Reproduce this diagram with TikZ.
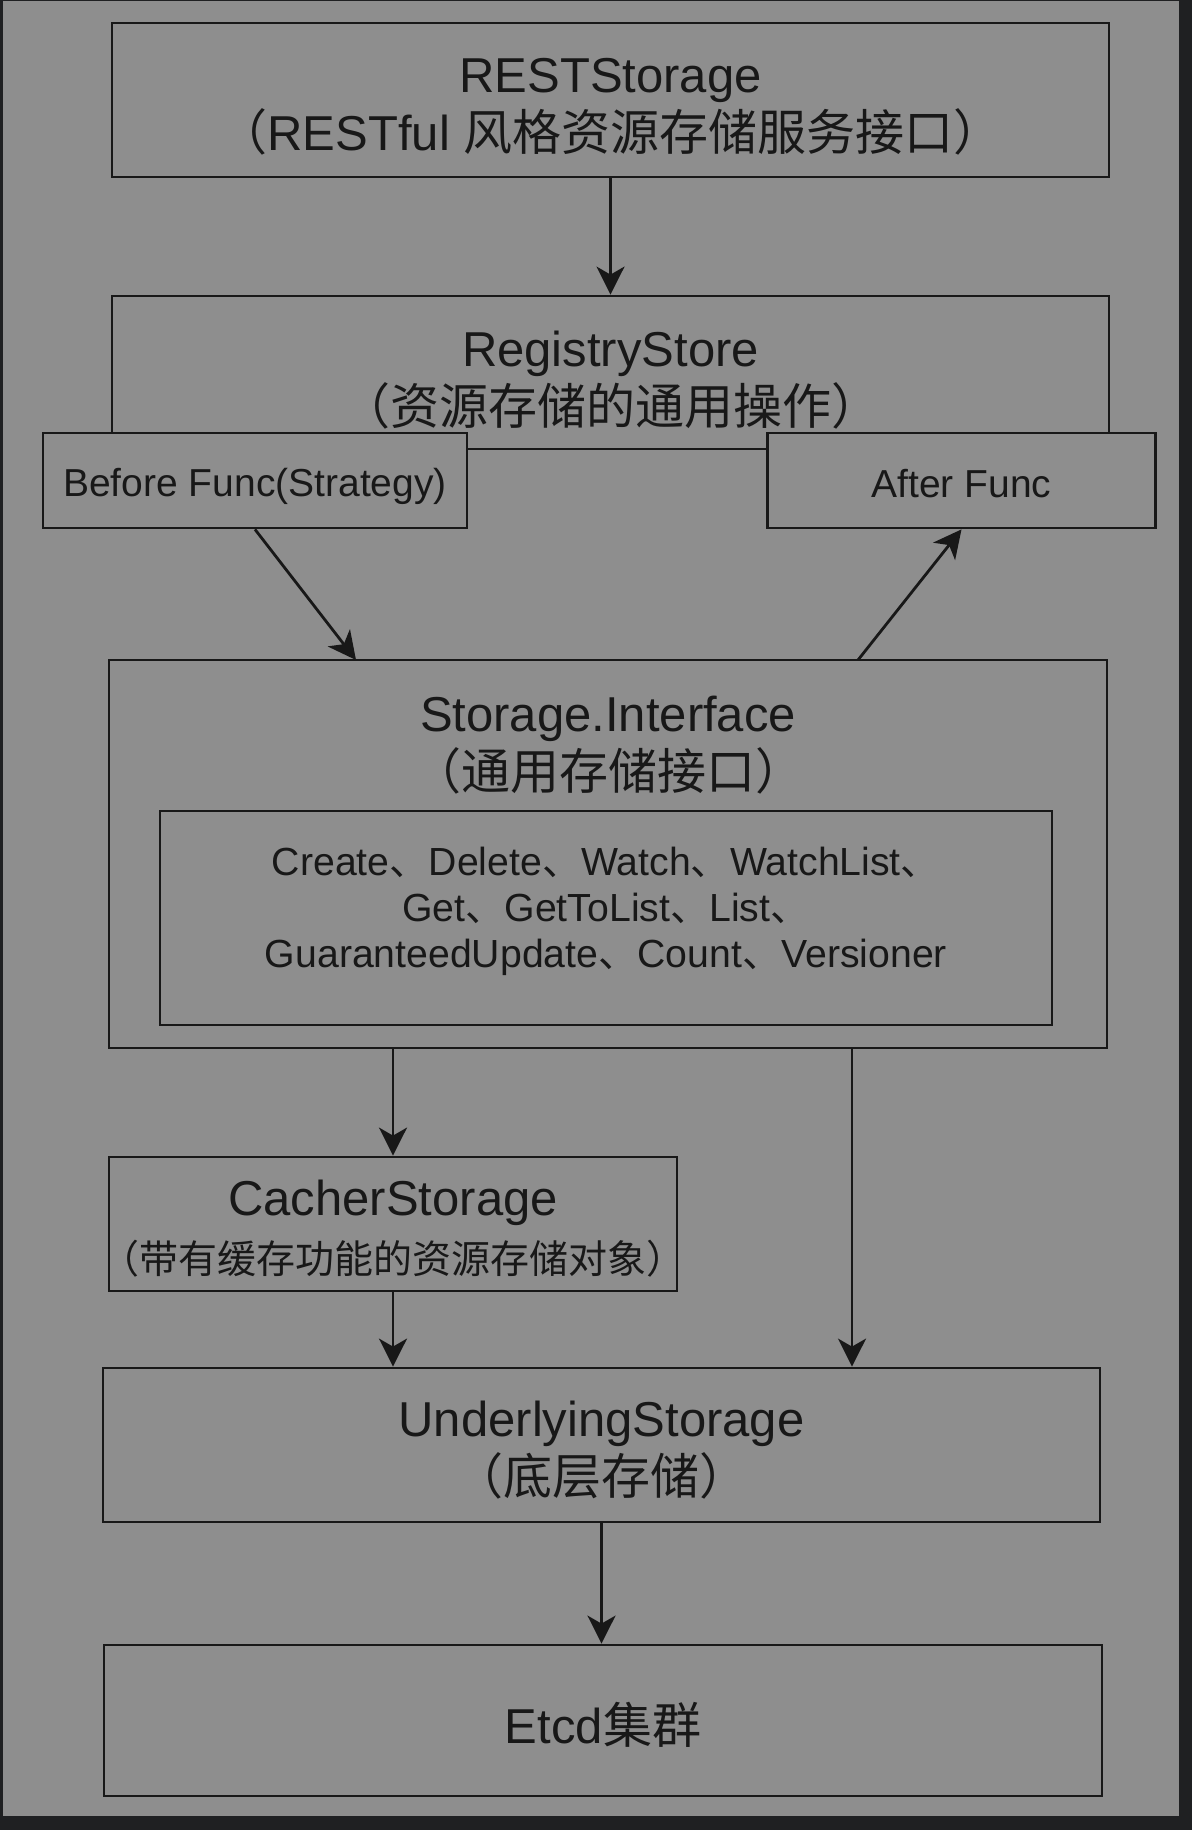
\documentclass[tikz,border=0pt]{standalone}
\usepackage{fontspec}
\setmainfont{Liberation Sans}
\newfontfamily\cjk{Noto Sans CJK SC}
\newfontfamily\cjkh[RawFeature=+halt]{Noto Sans CJK SC}
\usepackage{tikz}
\usetikzlibrary{arrows.meta}
\usepackage{xcolor}
\definecolor{bggray}{HTML}{8E8E8E}
\definecolor{framedark}{HTML}{1F2022}
\definecolor{ink}{HTML}{181818}
\newcommand{\lp}{{\cjkh （}}
\newcommand{\rp}{{\cjkh ）}}
\newcommand{\lift}[1]{\rule{0pt}{#1pt}}
\newcommand{\bigfont}{\fontsize{24.5}{29}\selectfont}
\newcommand{\smallfont}{\fontsize{19.5}{23}\selectfont}
\tikzset{
	storebox/.style={draw=ink,line width=1.4pt,rectangle,align=center,text=ink,font=\bigfont,inner sep=0pt},
	funcbox/.style={storebox,fill=bggray,font=\smallfont},
	flowarrow/.style={draw=ink,line width=1.4pt,-{Stealth[length=14pt,width=14pt,inset=4pt]}},
}

\begin{document}
\begin{tikzpicture}[x=0.5pt,y=-0.5pt]
			\useasboundingbox (0,0) rectangle (1192,1830);
			\fill[framedark] (0,0) rectangle (1192,1830);
			\fill[bggray] (3,1) rectangle (1179,1816);
			% upper layers
			\node[storebox,minimum width=498.5pt,minimum height=77pt] (rest) at (610.5,100) {\lift{24}RESTStorage\\\lp RESTful {\cjk 风格资源存储服务接口}\rp};
			\node[storebox,minimum width=498.5pt,minimum height=76.5pt] (reg) at (610.5,372.5) {\lift{25}RegistryStore\\\lp{\cjk 资源存储的通用操作}\rp};
			\node[funcbox,minimum width=212pt,minimum height=47.5pt] (before) at (255,480.5) {\lift{20.3}Before Func(Strategy)};
			\node[funcbox,minimum width=194pt,minimum height=47.5pt] (after) at (961.5,480.5) {\lift{16.7}After Func};
			% storage interface
			\node[storebox,minimum width=499pt,minimum height=194pt] (store) at (608,854) {};
			\node[text=ink,font=\bigfont,align=center] (stitle) at (608,745.5) {Storage.Interface\\\lp{\cjk 通用存储接口}\rp};
			\node[storebox,minimum width=446pt,minimum height=107pt] (opsbox) at (606,918) {};
			\node[text=ink,font=\fontsize{19.6}{23}\selectfont,align=center] (opstext) at (606,911) {Create{\cjk 、}Delete{\cjk 、}Watch{\cjk 、}WatchList{\cjk 、}\\Get{\cjk 、}GetToList{\cjk 、}List{\cjk 、}\\GuaranteedUpdate{\cjk 、}Count{\cjk 、}Versioner};
			% lower layers
			\node[storebox,minimum width=284pt,minimum height=67pt] (cacher) at (393,1224) {\lift{22}CacherStorage\\{\smallfont\lp{\cjk 带有缓存功能的资源存储对象}\rp}};
			\node[storebox,minimum width=498.5pt,minimum height=77pt] (under) at (601.5,1445) {\lift{23}UnderlyingStorage\\\lp{\cjk 底层存储}\rp};
			\node[storebox,minimum width=499pt,minimum height=75.5pt] (etcd) at (603,1720.5) {\lift{24.5}Etcd{\cjk 集群}};
			\coordinate (bin) at (356,660);
			\coordinate (aout) at (858,660);
			\coordinate (rdown) at (852,1048);
			\draw[flowarrow] (rest) -- (reg);
			\draw[flowarrow] (before.south) -- (bin);
			\draw[flowarrow] (aout) -- (after.south);
			\draw[flowarrow] (store.south -| cacher.north) -- (cacher.north);
			\draw[flowarrow] (cacher.south) -- (cacher.south |- under.north);
			\draw[flowarrow] (rdown) -- (rdown |- under.north);
			\draw[flowarrow] (under.south) -- (under.south |- etcd.north);
		\end{tikzpicture}
\end{document}
